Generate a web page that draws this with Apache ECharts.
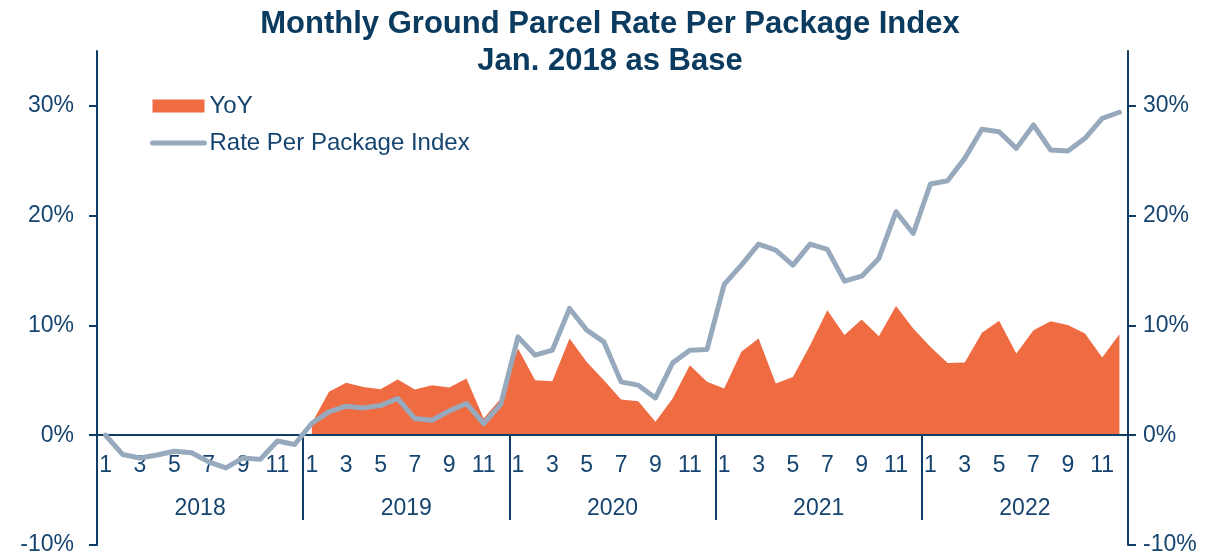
<!DOCTYPE html>
<html>
<head>
<meta charset="utf-8">
<script src="https://cdn.jsdelivr.net/npm/echarts@6/dist/echarts.min.js"></script>
<style>
  html, body { margin: 0; padding: 0; background: #fff; }
  #main { width: 1220px; height: 555px; }
</style>
</head>
<body>
<div id="main"></div>
<script>
// chart data
var years = ['2018', '2019', '2020', '2021', '2022'];
var months = ['1', '2', '3', '4', '5', '6', '7', '8', '9', '10', '11', '12'];
var yTicks = [-10, 0, 10, 20, 30];

// Rate Per Package Index, % vs Jan. 2018
var indexValues = [
  0, -1.76, -2.07, -1.8, -1.46, -1.6, -2.43, -2.98, -2.07, -2.2, -0.52, -0.85,
  1.09, 2.13, 2.64, 2.49, 2.7, 3.34, 1.52, 1.37, 2.22, 2.89, 1.06, 2.83,
  8.96, 7.29, 7.75, 11.55, 9.57, 8.5, 4.86, 4.56, 3.4, 6.59, 7.75, 7.81,
  13.74, 15.5, 17.41, 16.86, 15.5, 17.41, 16.93, 14.04, 14.49, 16.1, 20.36, 18.38,
  22.88, 23.18, 25.22, 27.87, 27.65, 26.13, 28.26, 25.98, 25.89, 27.05, 28.87, 29.42
];

// YoY, % (no values for 2018)
var yoyValues = [
  null, null, null, null, null, null, null, null, null, null, null, null,
  1.1, 3.95, 4.77, 4.4, 4.19, 5.07, 4.16, 4.56, 4.35, 5.17, 1.52, 3.34,
  7.9, 5.01, 4.92, 8.81, 6.68, 5.0, 3.25, 3.1, 1.22, 3.34, 6.38, 4.86,
  4.25, 7.6, 8.81, 4.71, 5.31, 8.2, 11.39, 9.12, 10.55, 9.02, 11.76, 9.72,
  8.05, 6.59, 6.62, 9.33, 10.42, 7.44, 9.57, 10.39, 10.03, 9.27, 7.08, 9.2
];

var categories = [];
years.forEach(function (y) {
  months.forEach(function (m) { categories.push(y + '-' + m); });
});

var FONT = 'Liberation Sans, Arial, sans-serif';
var TEXT = '#154470';
var AXIS = '#0f3d66';
var ORANGE = '#ef6b42';
var GREY = '#97a9bc';

var myChart = echarts.init(document.getElementById('main'));
myChart.setOption({
  animation: false,
  textStyle: { fontFamily: FONT },
  title: {
    text: 'Monthly Ground Parcel Rate Per Package Index\nJan. 2018 as Base',
    left: 'center',
    top: 1,
    textStyle: { fontFamily: FONT, fontSize: 31, fontWeight: 'bold', color: '#0c3b60', lineHeight: 37 }
  },
  legend: {
    orient: 'vertical',
    left: 145,
    top: 89,
    itemWidth: 52,
    itemHeight: 13,
    itemGap: 13,
    textStyle: { fontFamily: FONT, fontSize: 24, color: TEXT },
    data: [
      { name: 'YoY', icon: 'rect' },
      {
        name: 'Rate Per Package Index',
        itemStyle: { color: 'rgba(0,0,0,0)', borderWidth: 0 },
        lineStyle: { width: 5, color: GREY, cap: 'round' }
      }
    ]
  },
  grid: { left: 97, right: 92, top: 51, bottom: 10, containLabel: false, outerBoundsMode: 'none' },
  xAxis: [{
    type: 'category',
    data: categories,
    boundaryGap: true,
    position: 'bottom',
    offset: -110,
    z: 3,
    axisLine: { onZero: false, lineStyle: { color: AXIS, width: 2 } },
    axisTick: {
      show: true,
      length: 85,
      interval: function (i) { return i % 12 === 0; },
      lineStyle: { color: AXIS, width: 2 }
    },
    axisLabel: {
      interval: 1,
      margin: 19,
      fontSize: 23,
      color: TEXT,
      formatter: function (v) { return v.split('-')[1]; }
    }
  }, {
    type: 'category',
    data: years,
    position: 'bottom',
    offset: -48,
    axisLine: { show: false, onZero: false },
    axisTick: { show: false },
    axisLabel: { margin: 0, fontSize: 23, color: TEXT }
  }],
  yAxis: [{
    type: 'value',
    min: -10,
    max: 35,
    interval: 10,
    position: 'left',
    splitLine: { show: false },
    axisLine: { show: true, lineStyle: { color: AXIS, width: 2 } },
    axisTick: { show: true, length: 8, customValues: yTicks, lineStyle: { color: AXIS, width: 2 } },
    axisLabel: { customValues: yTicks, margin: 23, fontSize: 23, color: TEXT, formatter: '{value}%' }
  }, {
    type: 'value',
    min: -10,
    max: 35,
    interval: 10,
    position: 'right',
    splitLine: { show: false },
    axisLine: { show: true, lineStyle: { color: AXIS, width: 2 } },
    axisTick: { show: true, length: 8, customValues: yTicks, lineStyle: { color: AXIS, width: 2 } },
    axisLabel: { customValues: yTicks, margin: 15, fontSize: 23, color: TEXT, formatter: '{value}%' }
  }],
  series: [{
    name: 'YoY',
    type: 'line',
    data: yoyValues,
    symbol: 'none',
    z: 2,
    itemStyle: { color: ORANGE },
    lineStyle: { width: 0, color: ORANGE },
    areaStyle: { color: ORANGE, opacity: 1 }
  }, {
    name: 'Rate Per Package Index',
    type: 'line',
    data: indexValues,
    symbol: 'none',
    z: 4,
    itemStyle: { color: GREY },
    lineStyle: { width: 5, color: GREY, cap: 'round', join: 'round' }
  }]
});
</script>
</body>
</html>
